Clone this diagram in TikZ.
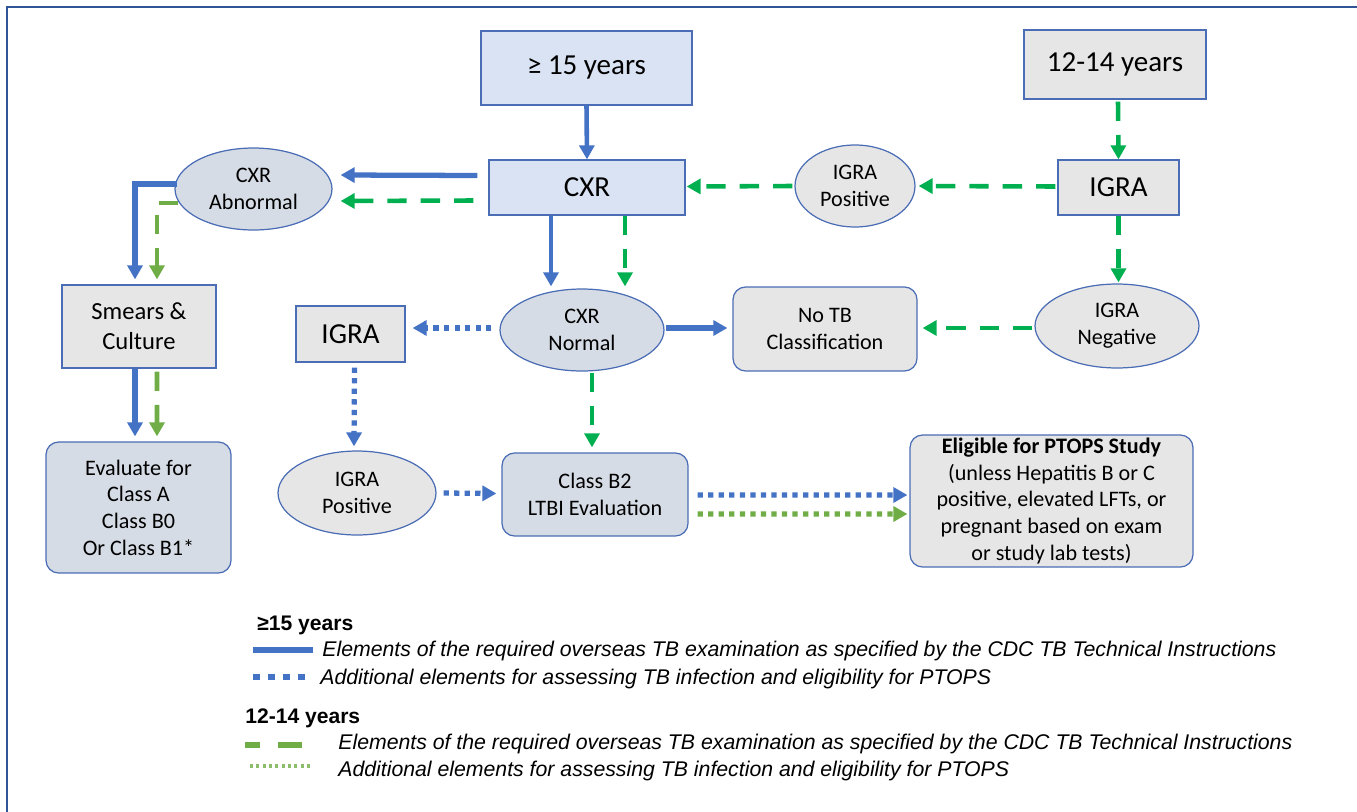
\documentclass[tikz,border=0pt]{standalone}
\usepackage{fontspec}
\setmainfont{Carlito}
\newfontfamily\legendfont{Liberation Sans}
\usetikzlibrary{arrows.meta,calc,shapes.geometric}

\definecolor{boxblue}{HTML}{DAE3F3}
\definecolor{boxgray}{HTML}{E7E6E6}
\definecolor{ovalblue}{HTML}{D6DCE5}
\definecolor{edgeblue}{HTML}{4A6DB5}
\definecolor{lineblue}{HTML}{4472C4}
\definecolor{linegreen}{HTML}{00B050}
\definecolor{lineolive}{HTML}{70AD47}
\definecolor{frameblue}{HTML}{2F5597}

\newcommand{\bigtext}{\fontsize{16.5pt}{19pt}\selectfont}
\newcommand{\midtext}{\fontsize{14pt}{17pt}\selectfont}
\newcommand{\smalltext}{\fontsize{12.6pt}{15.2pt}\selectfont}
\newcommand{\legtext}{\legendfont\itshape\fontsize{12.1pt}{14pt}\selectfont}
\newcommand{\legtitle}{\legendfont\bfseries\fontsize{12pt}{14pt}\selectfont}

\begin{document}
\begin{tikzpicture}[x=0.02cm,y=-0.02cm]
  \tikzset{box/.style = {draw=edgeblue, line width=0.7pt, inner sep=0pt, align=center}, % node styles
           oval/.style = {box, ellipse},
           roundbox/.style = {box, rounded corners=0.25cm},
           tip/.style = {-{Triangle[length=8pt,width=8.5pt]}},
           solidB/.style = {tip, draw=lineblue, line width=2.6pt},
           dotB/.style = {tip, draw=lineblue, line width=3pt, dash pattern=on 3pt off 3pt},
           dashG/.style = {tip, draw=linegreen, line width=2.6pt, dash pattern=on 11pt off 8pt},
           dashO/.style = {tip, draw=lineolive, line width=2.6pt, dash pattern=on 11pt off 8pt},
           dotO/.style = {tip, draw=lineolive, line width=3pt, dash pattern=on 3pt off 3pt}}

  \useasboundingbox (0,0) rectangle (1357,812);
  \draw[frameblue, line width=1.5pt] (7,812) -- (7,7) -- (1357,7);

  % nodes
  \node[box, fill=boxblue, minimum width=4.22cm, minimum height=1.48cm, font=\bigtext] (age15) at (586.5,68) {≥ 15 years};
  \node[box, fill=boxgray, minimum width=3.64cm, minimum height=1.38cm, font=\bigtext] (age12) at (1115,64.5) {12-14 years};
  \node[box, fill=boxblue, minimum width=3.92cm, minimum height=1.10cm, font=\bigtext] (cxr) at (587,187.5) {CXR};
  \node[box, fill=boxgray, minimum width=2.42cm, minimum height=1.10cm, font=\bigtext] (igraR) at (1118.5,187.5) {IGRA};
  \node[oval, fill=boxgray, minimum width=2.40cm, minimum height=1.64cm, font=\smalltext] (igraPos) at (855,186) {IGRA\\Positive};
  \node[oval, fill=ovalblue, minimum width=3.14cm, minimum height=1.64cm, font=\smalltext] (cxrAbn) at (253.5,189) {CXR\\Abnormal};
  \node[box, fill=boxgray, minimum width=3.08cm, minimum height=1.66cm, font=\midtext] (smears) at (139,326.5) {Smears \&\\Culture};
  \node[oval, fill=ovalblue, minimum width=3.28cm, minimum height=1.64cm, font=\smalltext] (cxrNorm) at (582,330) {CXR\\Normal};
  \node[box, fill=boxgray, minimum width=2.18cm, minimum height=1.12cm, font=\bigtext] (igraL) at (350.5,334) {IGRA};
  \node[roundbox, fill=boxgray, minimum width=3.68cm, minimum height=1.68cm, font=\smalltext] (notb) at (825,329) {No TB\\Classification};
  \node[oval, fill=boxgray, minimum width=3.28cm, minimum height=1.68cm, font=\smalltext] (igraNeg) at (1117,326) {IGRA\\Negative};
  \node[roundbox, fill=ovalblue, minimum width=3.70cm, minimum height=2.62cm, font=\smalltext] (evaluate) at (138.5,507.5) {Evaluate for\\Class A\\Class B0\\Or Class B1*};
  \node[oval, fill=boxgray, minimum width=3.16cm, minimum height=1.68cm, font=\smalltext] (igraPosL) at (357,493) {IGRA\\Positive};
  \node[roundbox, fill=ovalblue, minimum width=3.72cm, minimum height=1.66cm, font=\smalltext] (classB2) at (595,494.5) {Class B2\\LTBI Evaluation};
  \node[roundbox, fill=boxgray, minimum width=5.66cm, minimum height=2.64cm, font=\smalltext] (eligible) at (1051.5,501)
       {\textbf{Eligible for PTOPS Study}\\(unless Hepatitis B or C\\positive, elevated LFTs, or\\pregnant based on exam\\or study lab tests)};

  % connectors
  \draw[solidB] (age15.south) -- (cxr.north);
  \draw[dashG] ($(age12.south)+(3,2)$) -- (igraR.north);
  \draw[solidB, line width=3pt] ($(cxr.west)+(-11,-12)$) -- ($(cxrAbn.east)+(8,-14)$);
  \draw[dashG] ($(cxr.west)+(-15,13)$) -- ($(cxrAbn.east)+(8,12)$);
  \draw[dashG] ($(igraR.west)+(-2,-1)$) -- ($(igraPos.east)+(3,0)$);
  \draw[dashG] ($(igraPos.west)+(-2,0)$) -- ($(cxr.east)+(1,-1)$);
  \draw[solidB, line width=3pt] ($(cxrAbn.west)+(3,-5)$) -| ($(smears.north)+(-4,-5)$);
  \draw[dashO] ($(cxrAbn.west)+(4,14)$) -| ($(smears.north)+(18,-5)$);
  \draw[solidB, line width=3pt] ($(smears.south)+(-4,0)$) -- ($(evaluate.north)+(-3.5,-5)$);
  \draw[dashO] ($(smears.south)+(18,3)$) -- ($(evaluate.north)+(18.5,-5)$);
  \draw[solidB] ($(cxr.south)+(-36,0)$) -- ($(cxrNorm.north)+(-31,-2)$);
  \draw[dashG] ($(cxr.south)+(38,0)$) -- ($(cxrNorm.north)+(43,-2)$);
  \draw[solidB, line width=3pt] ($(cxrNorm.east)+(1,-2)$) -- ($(notb.west)+(-5,-1)$);
  \draw[dashG] (igraR.south) -- ($(igraNeg.north)+(1.5,-1)$);
  \draw[dashG] ($(igraNeg.west)+(-2,2)$) -- ($(notb.east)+(5,-1)$);
  \draw[dotB] ($(cxrNorm.west)+(-8,-2)$) -- ($(igraL.east)+(7,-6)$);
  \draw[dotB] ($(igraL.south)+(4,5)$) -- ($(igraPosL.north)+(-3,-4)$);
  \draw[dotB] ($(igraPosL.east)+(7,0)$) -- ($(classB2.west)+(-5,-1)$);
  \draw[dashG] ($(cxrNorm.south)+(10,1)$) -- ($(classB2.north)+(-3,-5)$);
  \draw[dotB] ($(classB2.east)+(9,0.5)$) -- ($(eligible.west)+(-2,-6)$);
  \draw[dotO] ($(classB2.east)+(9,19.5)$) -- ($(eligible.west)+(-2,13)$);

  % legend
  \node[anchor=west, inner sep=0pt, font=\legtitle] (leg15) at (257,625) {≥15 years};
  \draw[lineblue, line width=3.2pt] (253,650) -- (313,650);
  \node[anchor=west, inner sep=0pt, font=\legtext] (legA) at (322,651) {Elements of the required overseas TB examination as specified by the CDC TB Technical Instructions};
  \draw[lineblue, line width=3.3pt, dash pattern=on 3.8pt off 4.8pt] (253,677) -- (313,677);
  \node[anchor=west, inner sep=0pt, font=\legtext] (legB) at (320,679) {Additional elements for assessing TB infection and eligibility for PTOPS};
  \node[anchor=west, inner sep=0pt, font=\legtitle] (leg12) at (245,718) {12-14 years};
  \draw[lineolive, line width=3.2pt, dash pattern=on 13.7pt off 10.2pt, dash phase=5pt] (245,745) -- (302,745);
  \node[anchor=west, inner sep=0pt, font=\legtext] (legC) at (338,744) {Elements of the required overseas TB examination as specified by the CDC TB Technical Instructions};
  \draw[lineolive!80, line width=1.8pt, dash pattern=on 1.8pt off 1.8pt] (250,766) -- (312,766);
  \node[anchor=west, inner sep=0pt, font=\legtext] (legD) at (338,771) {Additional elements for assessing TB infection and eligibility for PTOPS};
\end{tikzpicture}
\end{document}
